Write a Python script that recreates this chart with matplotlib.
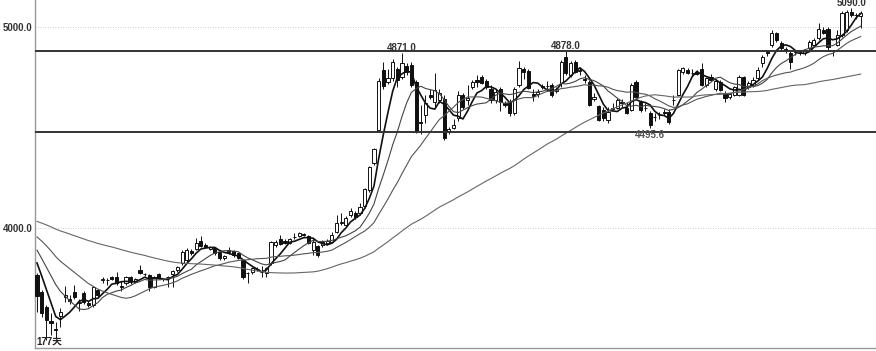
import numpy as np
import matplotlib
matplotlib.use("Agg")
import matplotlib.pyplot as plt

# ---- data (daily candles, 177 bars) ----
opens = [3768,3683,3609,3540,3500,3565,3660,3650,3683,3628,3678,3629,3619,3693,3746,3744,3758,3758,3714,3728,
         3758,3733,3793,3774,3768,3708,3773,3749,3757,3773,3793,3827,3842,3887,3897,3936,3916,3896,3901,3881,
         3852,3891,3886,3876,3842,3779,3783,3796,3784,3778,3827,3916,3946,3936,3926,3956,3961,3971,3961,3892,
         3911,3916,3925,3931,3981,4028,4015,4065,4075,4075,4109,4189,4322,4487,4787,4726,4745,4790,4750,4805,
         4810,4727,4525,4562,4660,4626,4636,4641,4480,4497,4547,4660,4635,4700,4735,4750,4730,4690,4636,4690,
         4620,4625,4570,4710,4790,4780,4665,4668,4706,4705,4710,4680,4718,4851,4760,4826,4778,4740,4727,4640,
         4605,4587,4537,4594,4597,4626,4597,4587,4727,4626,4595,4572,4550,4562,4576,4577,4636,4661,4775,4785,
         4770,4775,4790,4710,4750,4690,4725,4670,4650,4661,4661,4750,4700,4710,4745,4820,4876,4910,4970,4920,
         4890,4870,4876,4875,4868,4893,4910,4943,4985,4988,4882,4910,4958,4983,5074,5058,5053]
highs = [3780,3693,3619,3579,3535,3605,3713,3670,3718,3650,3690,3640,3715,3700,3760,3755,3762,3783,3740,3765,
         3765,3755,3818,3780,3772,3765,3780,3755,3765,3795,3815,3891,3900,3895,3951,3961,3925,3912,3908,3885,
         3870,3906,3892,3880,3846,3782,3810,3810,3812,3808,3936,3940,3966,3945,3950,3976,3980,3978,3966,3950,
         3918,3940,3945,3980,4064,4075,4060,4100,4085,4125,4200,4310,4400,4745,4825,4790,4840,4800,4871,4820,
         4826,4735,4610,4660,4690,4770,4690,4660,4500,4540,4680,4670,4710,4735,4760,4760,4740,4710,4690,4700,
         4630,4640,4700,4830,4800,4790,4690,4690,4715,4730,4720,4700,4835,4878,4830,4835,4800,4760,4735,4670,
         4610,4600,4600,4620,4645,4640,4625,4720,4735,4635,4620,4580,4570,4575,4590,4590,4660,4790,4800,4795,
         4790,4785,4820,4750,4765,4740,4735,4680,4670,4705,4760,4755,4730,4750,4800,4860,4880,4985,4975,4930,
         4900,4878,4885,4885,4890,4935,4945,5020,5000,5000,4885,4985,5075,5080,5090,5070,5075]
lows = [3585,3560,3446,3471,3456,3510,3634,3625,3650,3590,3625,3610,3610,3660,3730,3720,3745,3720,3690,3720,
        3725,3728,3772,3762,3690,3705,3748,3738,3709,3709,3785,3818,3835,3870,3890,3905,3900,3890,3870,3845,
        3845,3875,3860,3848,3750,3729,3775,3790,3760,3760,3818,3905,3915,3920,3920,3945,3955,3960,3920,3870,
        3860,3905,3915,3925,3975,4015,4005,4055,4045,4065,4100,4180,4315,4480,4690,4715,4730,4700,4740,4760,
        4700,4473,4470,4520,4640,4600,4620,4440,4470,4490,4530,4590,4610,4690,4700,4715,4690,4620,4620,4580,
        4600,4555,4560,4700,4740,4690,4630,4650,4690,4680,4650,4670,4700,4760,4750,4770,4760,4720,4605,4630,
        4530,4530,4520,4585,4590,4600,4565,4580,4640,4575,4580,4495.6,4530,4540,4560,4515,4610,4655,4765,4765,
        4755,4760,4705,4700,4730,4680,4680,4625,4640,4655,4655,4655,4690,4700,4735,4800,4855,4900,4925,4880,
        4870,4790,4860,4860,4860,4885,4900,4935,4965,4880,4855,4905,4950,4975,5050,5040,4995]
closes = [3664,3579,3545,3530,3496,3585,3668,3642,3659,3634,3634,3619,3708,3669,3749,3742,3749,3728,3708,3758,
          3733,3748,3778,3772,3709,3758,3753,3747,3759,3788,3808,3881,3891,3877,3926,3911,3906,3906,3877,3852,
          3862,3881,3867,3852,3758,3778,3803,3800,3782,3803,3931,3931,3921,3926,3946,3955,3976,3966,3926,3931,
          3867,3931,3936,3966,4025,4032,4050,4085,4055,4105,4194,4303,4392,4732,4705,4745,4825,4735,4820,4775,
          4710,4479,4520,4621,4650,4685,4670,4448,4490,4512,4660,4600,4645,4725,4725,4720,4700,4635,4675,4625,
          4610,4570,4690,4795,4775,4695,4658,4676,4700,4706,4660,4690,4826,4770,4820,4777,4785,4735,4612,4650,
          4537,4547,4577,4598,4636,4621,4572,4710,4651,4587,4598,4512,4554,4562,4570,4527,4636,4785,4795,4772,
          4771,4765,4710,4745,4735,4730,4685,4645,4665,4700,4750,4660,4720,4735,4785,4850,4868,4970,4934,4895,
          4882,4825,4876,4870,4880,4926,4935,4988,4970,4900,4881,4960,5066,5074,5058,5058,5069]
# closes before the window (used only for the moving averages)
pre_closes = [4070,4095,4125,4145,4135,4115,4130,4155,4140,4105,4085,4100,4125,4115,4095,4080,4105,4120,4135,4110,
              4090,4075,4095,4110,4100,4085,4075,4070,
              4035,4010,3990,3975,3985,3965,3980,4000,4010,3990,3990,3990,
              3990,4010,4040,4060,4050,4035,4020,4010,4005,4010,
              3990,3975,3950,3940,3920,
              3900,3880,3860,3836]
ma_periods = [5, 10, 20, 60]
level_lines = [4879, 4479]
y_ticks = [4000, 5000]
marked_highs = [78, 113, 174]
marked_lows = [131]
days_label = "177天"

o = np.array(opens, float); h = np.array(highs, float)
l = np.array(lows, float); c = np.array(closes, float)
n = len(c)
x = np.arange(n)

fig = plt.figure(figsize=(8.76, 3.51), dpi=100)
ax = fig.add_axes([35/876, 1 - 347.7/351, 841/876, 347.7/351])
ax.set_facecolor("white")

# wicks
ax.vlines(x, l, h, color="#111111", lw=0.7, zorder=2)
up = c >= o
body_bot = np.minimum(o, c)
body_h = np.maximum(np.abs(c - o), 2.0)
ax.bar(x[up], body_h[up], bottom=body_bot[up], width=0.68, facecolor="white",
       edgecolor="#111111", linewidth=0.7, zorder=3)
ax.bar(x[~up], body_h[~up], bottom=body_bot[~up], width=0.68, facecolor="#111111",
       edgecolor="#111111", linewidth=0.7, zorder=3)

# moving averages
full = np.concatenate([np.array(pre_closes, float), c])
styles = {5: ("#111111", 1.2), 10: ("#444444", 0.8), 20: ("#555555", 0.8), 60: ("#666666", 0.8)}
for p in ma_periods:
    ma = np.convolve(full, np.ones(p) / p, mode="valid")
    ma = ma[-n:]
    col, lw = styles[p]
    ax.plot(x, ma, color=col, lw=lw, zorder=4)

for lv in level_lines:
    ax.axhline(lv, color="#333333", lw=1.4, zorder=5)
for t in y_ticks:
    ax.axhline(t, color="#bbbbbb", lw=0.6, ls=(0, (1, 2)), zorder=1)

num_font = "Liberation Sans"
fkw = dict(fontsize=7, fontweight="bold", color="#333333", family=num_font)
for i in marked_highs:
    ax.annotate(f"{h[i]:.1f}", (x[i], h[i]), xytext=(0, 0), textcoords="offset points",
                ha="center", va="bottom", zorder=6, annotation_clip=False, **fkw)
for i in marked_lows:
    ax.annotate(f"{l[i]:.1f}", (x[i], l[i]), xytext=(0, -1), textcoords="offset points",
                ha="center", va="top", zorder=6, fontsize=7, fontweight="bold",
                color="#555555", family=num_font)
ax.text(0.002, 0.004, days_label, transform=ax.transAxes, ha="left", va="bottom",
        fontsize=7, fontweight="bold", color="#222222", family=["Liberation Sans", "Noto Sans CJK SC"])

ax.set_xlim(-0.43, n - 1 + 3.27)
ax.set_ylim(3408, 5132)
ax.set_yticks(y_ticks)
ax.set_yticklabels([f"{t:.1f}" for t in y_ticks], **fkw)
ax.set_xticks([])
ax.tick_params(axis="y", length=0, pad=2)
for s in ["top", "right"]:
    ax.spines[s].set_visible(False)
for s in ["left", "bottom"]:
    ax.spines[s].set_color("#999999")
    ax.spines[s].set_linewidth(1.0)

fig.savefig("out.png", dpi=100, facecolor="white")
